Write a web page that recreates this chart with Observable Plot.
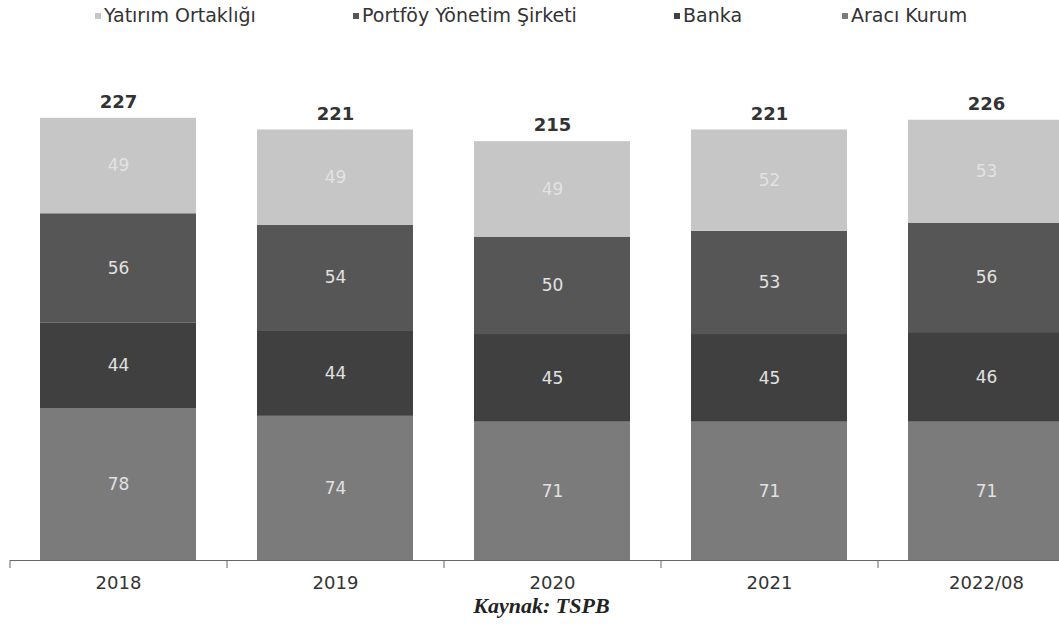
<!DOCTYPE html>
<html>
<head>
<meta charset="utf-8">
<script src="https://cdn.jsdelivr.net/npm/d3@7"></script>
<script src="https://cdn.jsdelivr.net/npm/@observablehq/plot@0.6"></script>
<style>
  html, body { margin: 0; padding: 0; background: #fff; }
  #wrap { position: relative; width: 1059px; height: 628px; overflow: hidden; font-family: "DejaVu Sans", sans-serif; }
  #legend { position: absolute; top: 0; left: 0; width: 1059px; height: 40px; }
  .item { position: absolute; top: 4px; font-size: 19px; color: #333; white-space: nowrap; line-height: 22px; }
  .sw { display: inline-block; width: 6px; height: 6px; margin-right: 3px; vertical-align: 3px; }
  #chart { position: absolute; top: 40px; left: 0; width: 1095px; }
  #chart svg { max-width: none !important; }
  #caption { position: absolute; top: 593px; left: 0; width: 1059px; text-align: center; padding-left: 24px; box-sizing: border-box;
    font-family: "Liberation Serif", serif; font-style: italic; font-weight: bold; font-size: 22px; color: #222; }
</style>
</head>
<body>
<div id="wrap">
  <div id="legend"></div>
  <div id="chart"></div>
  <div id="caption">Kaynak: TSPB</div>
</div>
<script>
// Categories (x axis)
const years = ["2018", "2019", "2020", "2021", "2022/08"];
// Series, bottom to top in the stack
const seriesOrder = ["Aracı Kurum", "Banka", "Portföy Yönetim Şirketi", "Yatırım Ortaklığı"];
// Legend order (as shown at top)
const legendOrder = ["Yatırım Ortaklığı", "Portföy Yönetim Şirketi", "Banka", "Aracı Kurum"];
// Values per series
const araciKurum = [78, 74, 71, 71, 71];
const banka = [44, 44, 45, 45, 46];
const portfoy = [56, 54, 50, 53, 56];
const yatirim = [49, 49, 49, 52, 53];
// Totals shown above bars
const totals = [227, 221, 215, 221, 226];

const seriesValues = {
  "Aracı Kurum": araciKurum,
  "Banka": banka,
  "Portföy Yönetim Şirketi": portfoy,
  "Yatırım Ortaklığı": yatirim
};
const colors = {
  "Aracı Kurum": "#7b7b7b",
  "Banka": "#404040",
  "Portföy Yönetim Şirketi": "#565656",
  "Yatırım Ortaklığı": "#c6c6c6"
};

const data = [];
for (const s of seriesOrder) {
  years.forEach((y, i) => data.push({year: y, series: s, value: seriesValues[s][i]}));
}
const totalData = years.map((y, i) => ({year: y, total: totals[i]}));

// Legend
const legendLeft = [95, 353, 674, 842];
const legend = document.getElementById("legend");
legendOrder.forEach((s, i) => {
  const el = document.createElement("div");
  el.className = "item";
  el.style.left = legendLeft[i] + "px";
  el.innerHTML = `<span class="sw" style="background:${colors[s]}"></span>${s}`;
  legend.appendChild(el);
});

const chart = Plot.plot({
  width: 1095,
  height: 560,
  marginLeft: 10,
  marginRight: 0,
  marginTop: 33,
  marginBottom: 40,
  style: {fontFamily: "DejaVu Sans, sans-serif", background: "#fff", maxWidth: "none"},
  x: {domain: years, paddingInner: 0.28, paddingOuter: 0.14, axis: null, label: null},
  y: {domain: [0, 250], axis: null, label: null},
  color: {domain: seriesOrder, range: seriesOrder.map(s => colors[s])},
  marks: [
    Plot.barY(data, {x: "year", y: "value", fill: "series", order: seriesOrder}),
    Plot.text(data, Plot.stackY({x: "year", y: "value", z: "series", order: seriesOrder, text: d => String(d.value),
      fill: "#e2e2e2", fontSize: 17})),
    Plot.text(totalData, {x: "year", y: "total", text: d => String(d.total), dy: -16, fill: "#333", fontSize: 18, fontWeight: "bold"}),
    Plot.ruleY([0], {stroke: "#666", strokeWidth: 1.2}),
    Plot.axisX({tickSize: 8, tickFormat: () => "", dx: -108.5, stroke: "#666", label: null}),
    Plot.axisX({tickSize: 0, tickPadding: 16, fontSize: 18, fill: "#333", label: null})
  ]
});
document.getElementById("chart").appendChild(chart);
</script>
</body>
</html>
